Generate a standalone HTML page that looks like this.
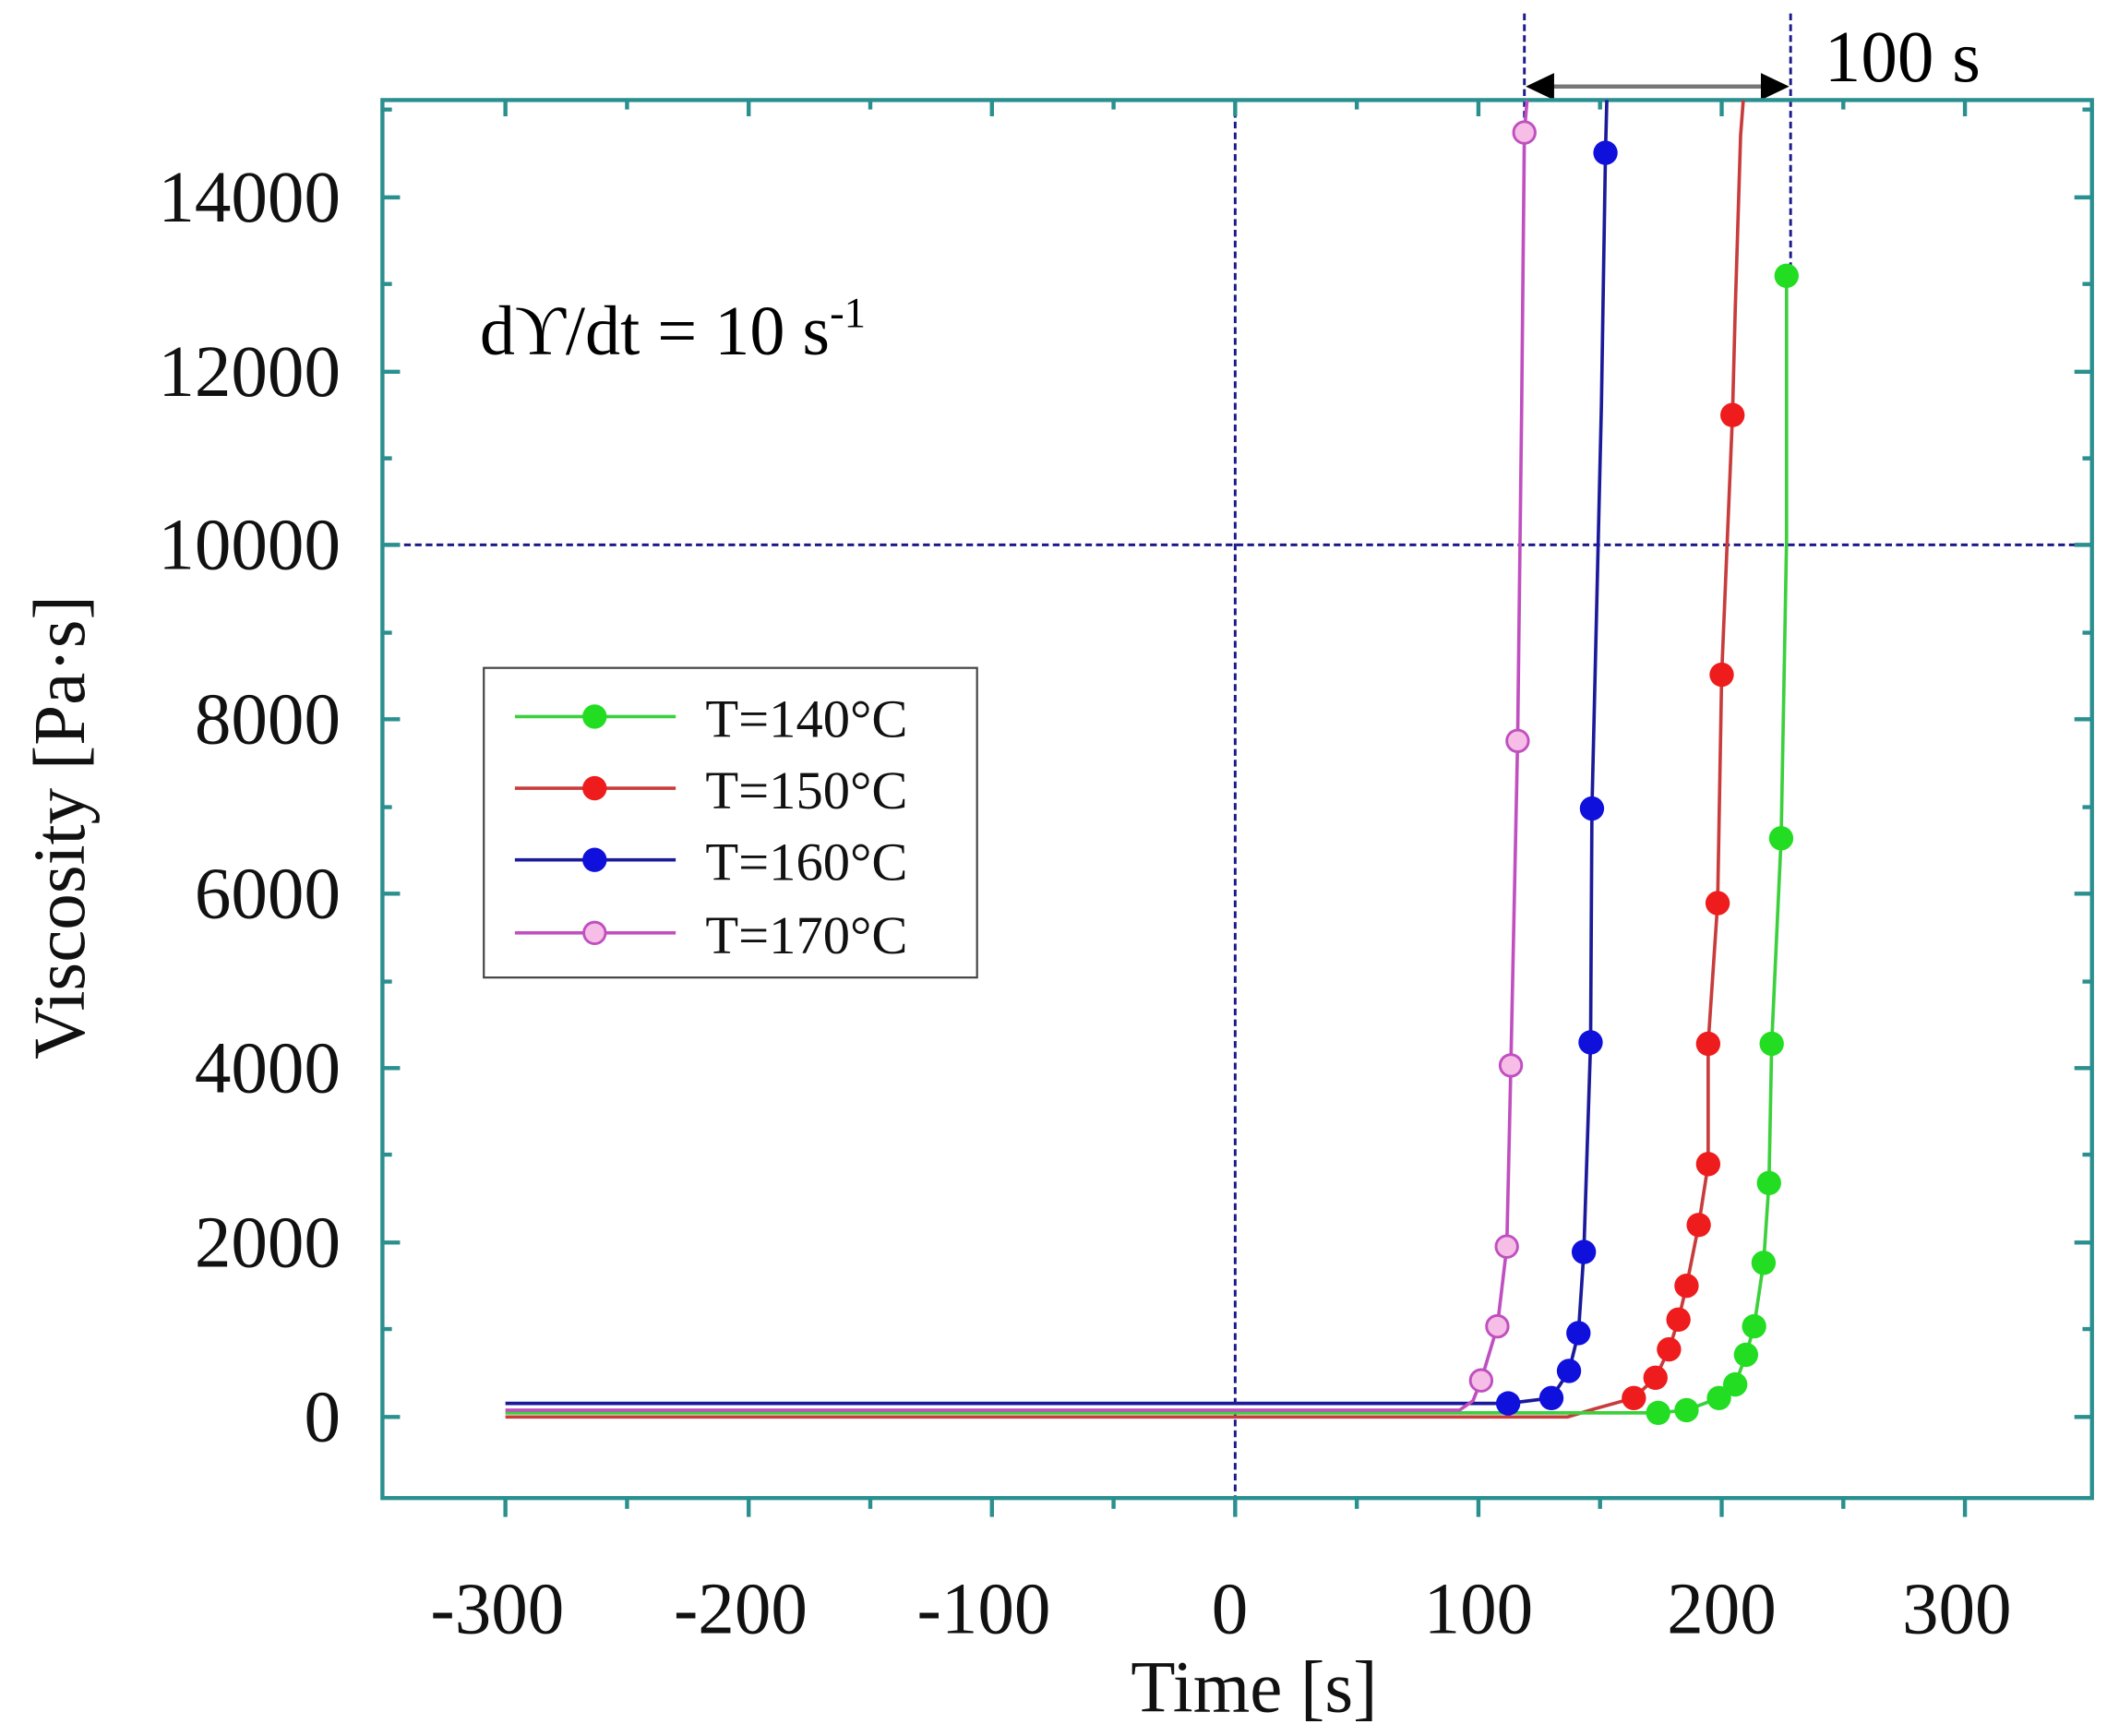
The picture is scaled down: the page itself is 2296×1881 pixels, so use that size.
<!DOCTYPE html>
<html><head><meta charset="utf-8"><style>html,body{margin:0;padding:0;background:#fff}svg{display:block}</style></head><body>
<svg width="2296" height="1881" viewBox="0 0 1568 1284" preserveAspectRatio="none" xmlns="http://www.w3.org/2000/svg" font-family="'Liberation Serif', serif">
<rect width="1568" height="1284" fill="#fff"/>
<g stroke="#1a1a8a" stroke-width="2" stroke-dasharray="5,3" fill="none">
<line x1="914" y1="74" x2="914" y2="1108"/>
<line x1="283" y1="403" x2="1548" y2="403"/>
<line x1="1128" y1="10" x2="1128" y2="96"/>
<line x1="1325" y1="10" x2="1325" y2="200"/>
</g>
<line x1="1140" y1="64" x2="1313" y2="64" stroke="#777" stroke-width="3"/>
<polygon points="1129,64 1150,54 1150,74" fill="#000"/>
<polygon points="1324,64 1303,54 1303,74" fill="#000"/>
<text x="1350" y="60" font-size="54">100 s</text>
<g stroke="#2a8f8f" stroke-width="3" fill="none">
<rect x="283" y="74" width="1265" height="1034"/>
<path d="M374,1108v14M554,1108v14M734,1108v14M914,1108v14M1094,1108v14M1274,1108v14M1454,1108v14
M464,1108v8M644,1108v8M824,1108v8M1004,1108v8M1184,1108v8M1364,1108v8
M374,74v12M554,74v12M734,74v12M914,74v12M1094,74v12M1274,74v12M1454,74v12
M464,74v7M644,74v7M824,74v7M1004,74v7M1184,74v7M1364,74v7
M283,1048h13M283,919h13M283,790h13M283,661h13M283,532h13M283,403h13M283,275h13M283,146h13
M283,983h7M283,854h7M283,726h7M283,597h7M283,468h7M283,339h7M283,210h7M283,81h7
M1548,1048h-13M1548,919h-13M1548,790h-13M1548,661h-13M1548,532h-13M1548,403h-13M1548,275h-13M1548,146h-13
M1548,983h-7M1548,854h-7M1548,726h-7M1548,597h-7M1548,468h-7M1548,339h-7M1548,210h-7M1548,81h-7"/>
</g>
<g font-size="54" fill="#111" text-anchor="end">
<text x="252" y="1066">0</text>
<text x="252" y="937">2000</text>
<text x="252" y="808">4000</text>
<text x="252" y="679">6000</text>
<text x="252" y="550">8000</text>
<text x="252" y="421">10000</text>
<text x="252" y="293">12000</text>
<text x="252" y="164">14000</text>
</g>
<g font-size="54" fill="#111" text-anchor="middle">
<text x="368" y="1208">-300</text>
<text x="548" y="1208">-200</text>
<text x="728" y="1208">-100</text>
<text x="910" y="1208">0</text>
<text x="1094" y="1208">100</text>
<text x="1274" y="1208">200</text>
<text x="1448" y="1208">300</text>
<text x="928" y="1266" font-size="54">Time [s]</text>
<text transform="translate(62,612) rotate(-90)" font-size="54">Viscosity [Pa·s]</text>
</g>
<text x="355" y="262" font-size="52">dϒ/dt = 10 s<tspan font-size="32" dy="-20">-1</tspan></text>
<g fill="none" stroke-width="2.5">
<polyline stroke="#c83c3c" points="374,1048 1160,1048 1180,1042 1209,1034 1225,1019 1235,998 1242,976 1248,951 1257,906 1264,861 1264,772 1271,668 1274,499 1282,307 1284,230 1288,100 1290,74"/>
<polyline stroke="#3cd03c" points="374,1045 1200,1045 1227,1045 1248,1043 1272,1034 1284,1024 1292,1002 1298,981 1305,934 1309,875 1311,772 1318,620 1322,400 1322,204"/>
<polyline stroke="#1a1a9a" points="374,1038 1116,1038 1148,1034 1161,1014 1168,986 1172,926 1177,771 1178,598 1185,300 1188,113 1189,74"/>
<polyline stroke="#c050c0" points="374,1043 1080,1043 1090,1036 1096,1021 1108,981 1115,922 1118,788 1123,548 1126,300 1128,98 1130,74"/>
</g>
<g fill="#ee1c1c">
<circle cx="1209" cy="1034" r="9"/><circle cx="1225" cy="1019" r="9"/><circle cx="1235" cy="998" r="9"/><circle cx="1242" cy="976" r="9"/><circle cx="1248" cy="951" r="9"/><circle cx="1257" cy="906" r="9"/><circle cx="1264" cy="861" r="9"/><circle cx="1264" cy="772" r="9"/><circle cx="1271" cy="668" r="9"/><circle cx="1274" cy="499" r="9"/><circle cx="1282" cy="307" r="9"/>
</g>
<g fill="#22dd22">
<circle cx="1227" cy="1045" r="9"/><circle cx="1248" cy="1043" r="9"/><circle cx="1272" cy="1034" r="9"/><circle cx="1284" cy="1024" r="9"/><circle cx="1292" cy="1002" r="9"/><circle cx="1298" cy="981" r="9"/><circle cx="1305" cy="934" r="9"/><circle cx="1309" cy="875" r="9"/><circle cx="1311" cy="772" r="9"/><circle cx="1318" cy="620" r="9"/><circle cx="1322" cy="204" r="9"/>
</g>
<g fill="#1010dd">
<circle cx="1116" cy="1038" r="9"/><circle cx="1148" cy="1034" r="9"/><circle cx="1161" cy="1014" r="9"/><circle cx="1168" cy="986" r="9"/><circle cx="1172" cy="926" r="9"/><circle cx="1177" cy="771" r="9"/><circle cx="1178" cy="598" r="9"/><circle cx="1188" cy="113" r="9"/>
</g>
<g fill="#f6bde6" stroke="#c050c0" stroke-width="2">
<circle cx="1096" cy="1021" r="8"/><circle cx="1108" cy="981" r="8"/><circle cx="1115" cy="922" r="8"/><circle cx="1118" cy="788" r="8"/><circle cx="1123" cy="548" r="8"/><circle cx="1128" cy="98" r="8"/>
</g>
<rect x="358" y="494" width="365" height="229" fill="#fff" stroke="#444" stroke-width="1.5"/>
<g stroke-width="2.5">
<line x1="381" y1="530" x2="500" y2="530" stroke="#3cd03c"/><circle cx="440" cy="530" r="9" fill="#22dd22"/>
<line x1="381" y1="583" x2="500" y2="583" stroke="#c83c3c"/><circle cx="440" cy="583" r="9" fill="#ee1c1c"/>
<line x1="381" y1="636" x2="500" y2="636" stroke="#1a1a9a"/><circle cx="440" cy="636" r="9" fill="#1010dd"/>
<line x1="381" y1="690" x2="500" y2="690" stroke="#c050c0"/><circle cx="440" cy="690" r="8" fill="#f6bde6" stroke="#c050c0" stroke-width="2"/>
</g>
<g font-size="40" fill="#111">
<text x="522" y="545">T=140°C</text>
<text x="522" y="598">T=150°C</text>
<text x="522" y="651">T=160°C</text>
<text x="522" y="705">T=170°C</text>
</g>
</svg>
</body></html>
